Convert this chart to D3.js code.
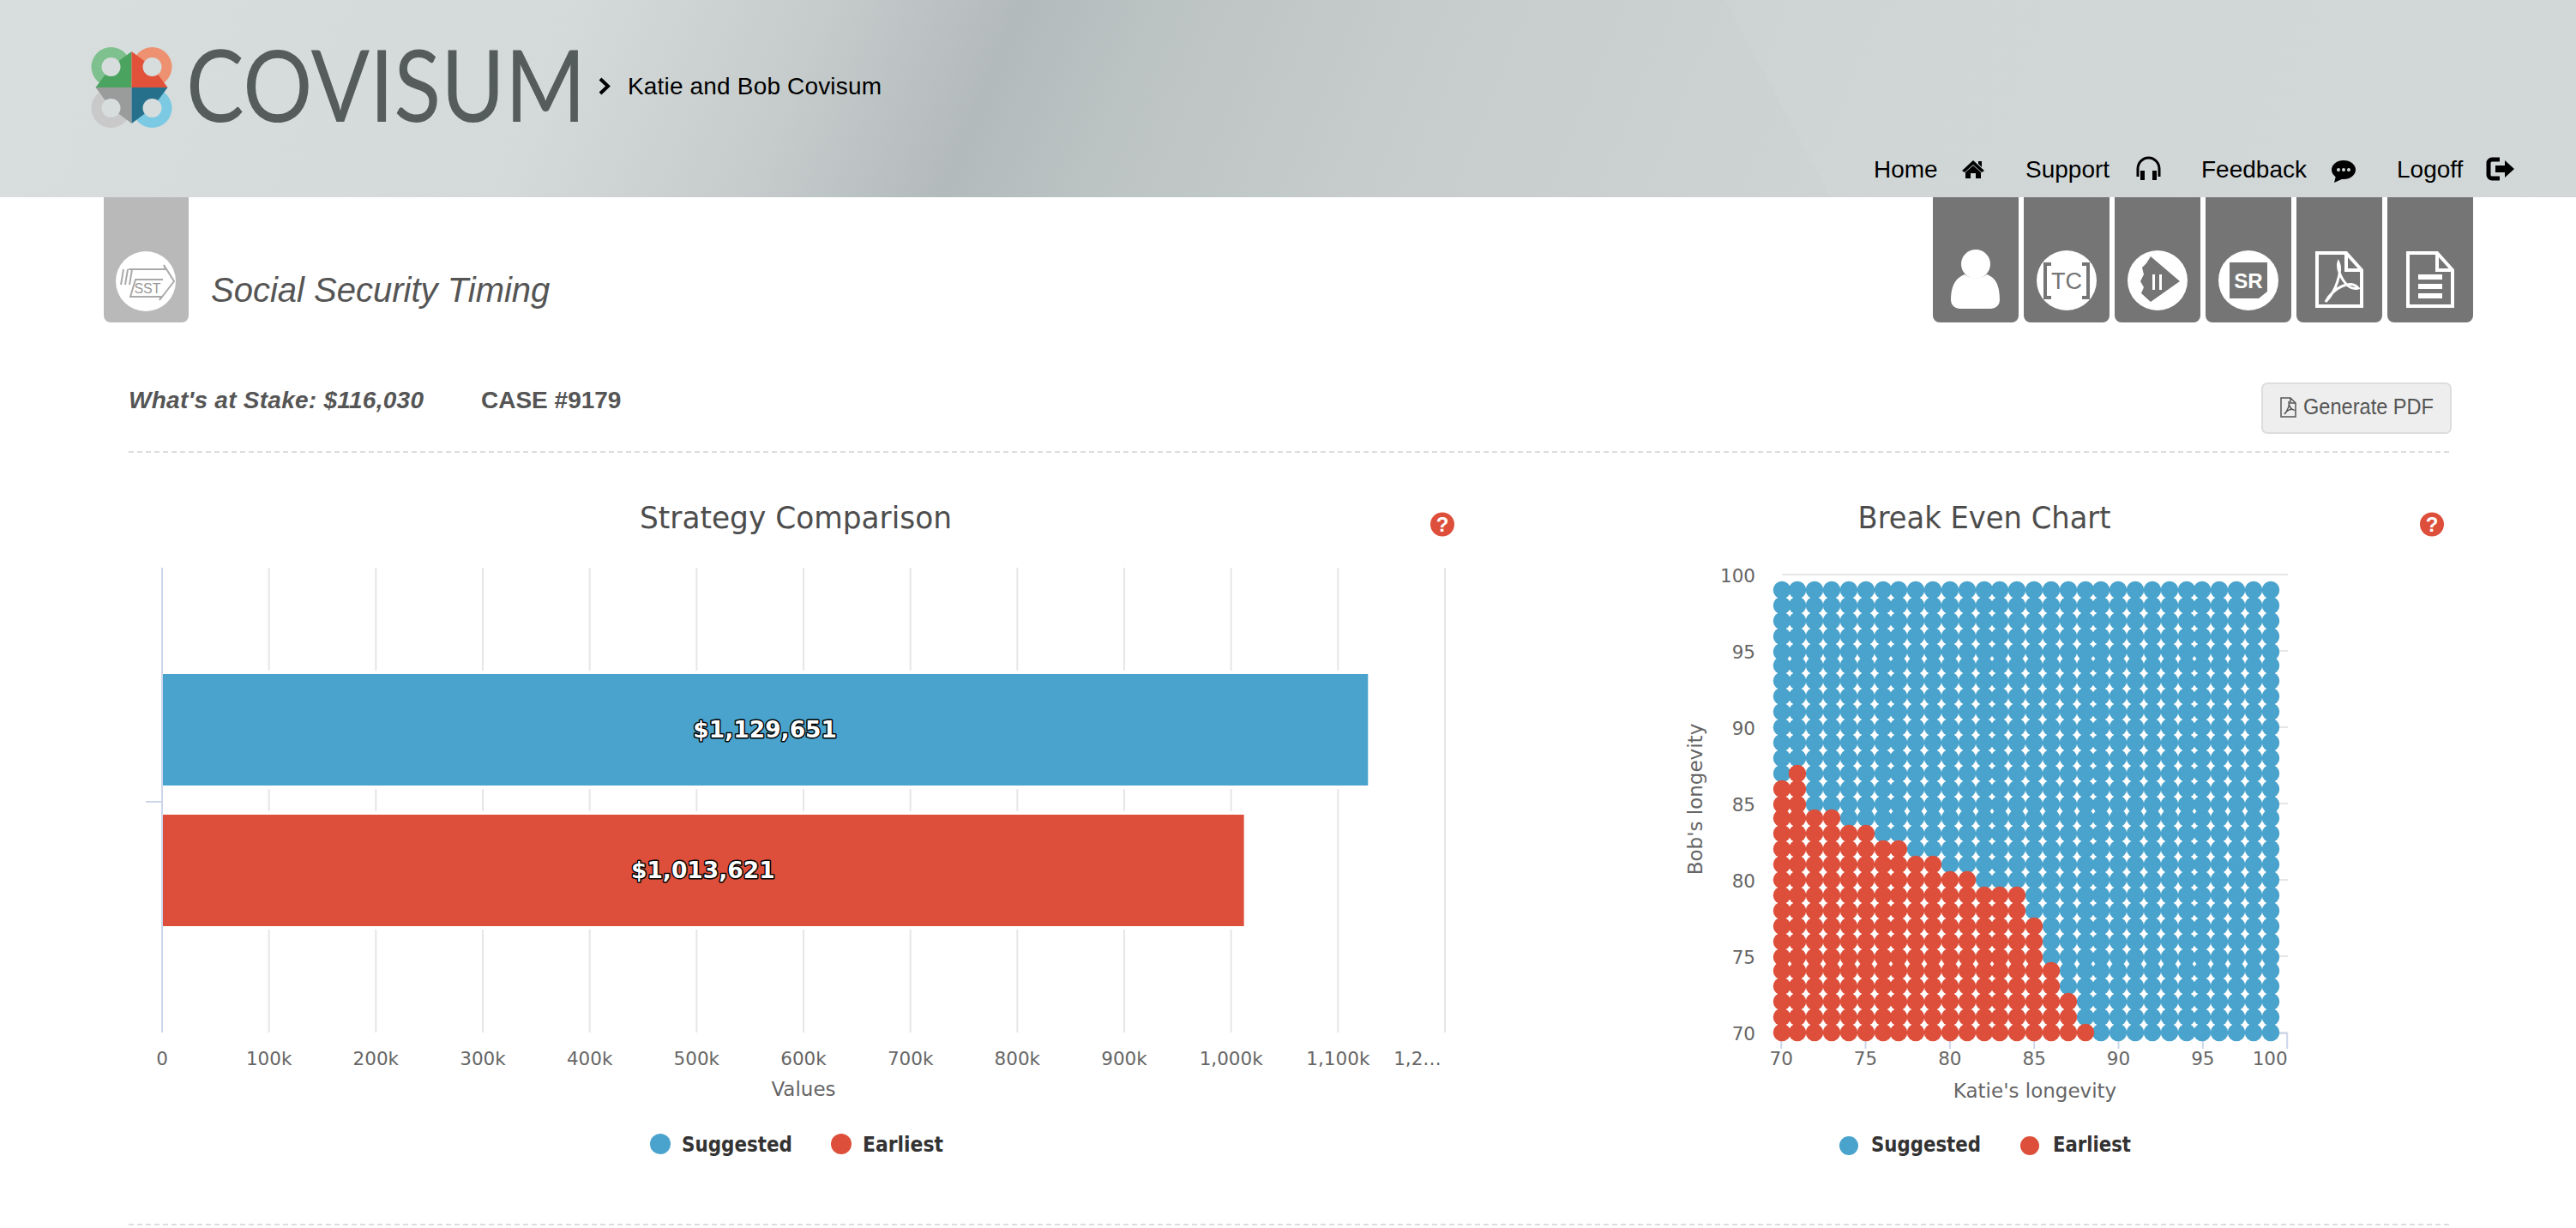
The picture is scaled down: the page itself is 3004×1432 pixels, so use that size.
<!DOCTYPE html>
<html>
<head>
<meta charset="utf-8">
<script src="https://cdn.jsdelivr.net/npm/d3@7"></script>
<style>
  html, body { margin: 0; padding: 0; background: #fff; }
  svg { display: block; }
  .ui { font-family: "Liberation Sans", Arial, sans-serif; }
  .hc { font-family: "DejaVu Sans", sans-serif; }
</style>
</head>
<body>
<svg id="page" width="3004" height="1432"></svg>
<script>
// strategy comparison
const strategies = ["Suggested", "Earliest"];
const totals = [1129651, 1013621];
const totalLabels = ["$1,129,651", "$1,013,621"];
const valueTicks = [0, 100000, 200000, 300000, 400000, 500000, 600000, 700000, 800000, 900000, 1000000, 1100000, 1200000];
const valueTickLabels = ["0", "100k", "200k", "300k", "400k", "500k", "600k", "700k", "800k", "900k", "1,000k", "1,100k", "1,2…"];

// break even chart
const katieAges = [70, 71, 72, 73, 74, 75, 76, 77, 78, 79, 80, 81, 82, 83, 84, 85, 86, 87, 88, 89, 90, 91, 92, 93, 94, 95, 96, 97, 98, 99];
const bobAges = [70, 71, 72, 73, 74, 75, 76, 77, 78, 79, 80, 81, 82, 83, 84, 85, 86, 87, 88, 89, 90, 91, 92, 93, 94, 95, 96, 97, 98, 99];
// highest Bob age that is still "Earliest", one per Katie age (null = none)
const earliestTopBob = [86, 87, 84, 84, 83, 83, 82, 82, 81, 81, 80, 80, 79, 79, 79, 77, 74, 72, 70, null, null, null, null, null, null, null, null, null, null, null];
const longevityTicks = [70, 75, 80, 85, 90, 95, 100];

const blue = "#49a3cc", red = "#dd4f3a";
const seriesColors = [blue, red];

const svg = d3.select("#page");

//---------- header ----------
const defs = svg.append("defs");
const headerGrad = defs.append("linearGradient")
    .attr("id", "headerGrad")
    .attr("gradientUnits", "userSpaceOnUse")
    .attr("x1", 0).attr("y1", 0)
    .attr("x2", 2646).attr("y2", 1094);
[[0, "#d8dedd"], [.22, "#d4dada"], [.31, "#c6cccc"], [.385, "#b3babb"], [.44, "#bcc3c3"], [.55, "#c7cdcd"], [.72, "#ced4d4"], [1, "#d0d6d5"]]
    .forEach(s => headerGrad.append("stop").attr("offset", s[0]).attr("stop-color", s[1]));

svg.append("rect")
    .attr("width", 3004).attr("height", 230)
    .attr("fill", "url(#headerGrad)");
svg.append("path")
    .attr("d", "M2011,0L2135,230L3004,230L3004,0Z")
    .attr("fill", "#fff").attr("opacity", 0.05);

// logo rings, each one with a darker corner going to the middle
const logoCx = 153.5, logoCy = 102;
const rings = [
    {dx: -1, dy: -1, light: "#7fc08f", dark: "#4aa35f"},
    {dx: 1, dy: -1, light: "#ee9171", dark: "#e2513a"},
    {dx: -1, dy: 1, light: "#c9c9c9", dark: "#9a9c9c"},
    {dx: 1, dy: 1, light: "#7cc9e3", dark: "#27708c"}
];
const logo = svg.append("g");
rings.forEach(r => {
    const cx = logoCx + r.dx * 24, cy = logoCy + r.dy * 24;
    logo.append("circle").attr("cx", cx).attr("cy", cy).attr("r", 23).attr("fill", r.light);
    logo.append("path")
        .attr("fill", r.dark)
        .attr("d", `M${logoCx},${logoCy}H${cx + r.dx * 18}L${cx},${cy}L${logoCx},${cy + r.dy * 18}Z`);
    logo.append("circle").attr("cx", cx).attr("cy", cy).attr("r", 11).attr("fill", "#d7dddd");
});
svg.append("text")
    .attr("x", 217).attr("y", 142)
    .attr("textLength", 466)
    .attr("lengthAdjust", "spacingAndGlyphs")
    .style("font-family", "Lato, sans-serif")
    .style("font-size", "116px")
    .attr("fill", "#555d5c")
    .text("COVISUM");

svg.append("path")
    .attr("d", "M700,92L709,100.5L700,109")
    .attr("fill", "none").attr("stroke", "#000").attr("stroke-width", 4);
svg.append("text").attr("class", "ui")
    .attr("x", 732).attr("y", 110)
    .attr("textLength", 296)
    .style("font-size", "28px")
    .text("Katie and Bob Covisum");

// nav links
const navLabels = ["Home", "Support", "Feedback", "Logoff"];
const navX = [2185, 2362, 2567, 2795];
svg.append("g").selectAll("text")
    .data(navLabels)
    .enter()
    .append("text")
    .attr("class", "ui")
    .attr("x", (d, i) => navX[i])
    .attr("y", 207)
    .style("font-size", "28px")
    .text(d => d);

// home
svg.append("path")
    .attr("d", "M2301,187L2314,199L2311,201L2301,192L2291,201L2288,199Z M2292,201L2301,193L2310,201V208H2304V202H2298V208H2292Z M2307,188H2311V195L2307,191Z");
// headphones
svg.append("path")
    .attr("d", "M2493,206V197a12.5,13 0 0 1 25,0V206")
    .attr("fill", "none").attr("stroke", "#000").attr("stroke-width", 3);
svg.append("path").attr("d", "M2496,199h5v11h-5Z M2510,199h5v11h-5Z");
// feedback
svg.append("ellipse").attr("cx", 2733).attr("cy", 198).attr("rx", 14).attr("ry", 11);
svg.append("path").attr("d", "M2724,205L2722,213L2733,208Z");
svg.append("g").selectAll("circle")
    .data([2727, 2733, 2739])
    .enter()
    .append("circle")
    .attr("cx", d => d).attr("cy", 198).attr("r", 2).attr("fill", "#d0d6d6");
// logoff
svg.append("path")
    .attr("d", "M2915,186H2906a4,4 0 0 0 -4,4V204a4,4 0 0 0 4,4H2915")
    .attr("fill", "none").attr("stroke", "#000").attr("stroke-width", 5);
svg.append("path").attr("d", "M2910,193H2921V187L2932,197L2921,207V201H2910Z");

//---------- toolbar ----------
svg.append("path")
    .attr("d", "M121,230H220V368a8,8 0 0 1 -8,8H129a8,8 0 0 1 -8,-8Z")
    .attr("fill", "#b9b9b9");
svg.append("circle").attr("cx", 170).attr("cy", 328).attr("r", 35).attr("fill", "#fff");
svg.append("path")
    .attr("d", "M150,314H193L191,309L203,328L186,350L188,346H152L158,326H190")
    .attr("fill", "none").attr("stroke", "#aaa").attr("stroke-width", 2);
svg.append("g").selectAll("line")
    .data([141, 146, 151])
    .enter()
    .append("line")
    .attr("x1", d => d + 3).attr("x2", d => d)
    .attr("y1", 314).attr("y2", 332)
    .attr("stroke", "#aaa").attr("stroke-width", 2);
svg.append("text").attr("class", "ui")
    .attr("x", 172).attr("y", 342).attr("text-anchor", "middle")
    .style("font-size", "16px").attr("fill", "#999")
    .text("SST");

svg.append("text").attr("class", "ui")
    .attr("x", 246).attr("y", 352)
    .style("font-size", "40px").style("font-style", "italic")
    .attr("fill", "#555")
    .text("Social Security Timing");

const toolX = [2254, 2360, 2466, 2572, 2678, 2784];
svg.append("g").selectAll("path")
    .data(toolX)
    .enter()
    .append("path")
    .attr("d", d => `M${d},230H${d + 100}V368a8,8 0 0 1 -8,8H${d + 8}a8,8 0 0 1 -8,-8Z`)
    .attr("fill", "#757575");

const tool = svg.append("g").attr("fill", "#fff");
// person
tool.append("ellipse").attr("cx", 2304).attr("cy", 308).attr("rx", 17).attr("ry", 17);
tool.append("path").attr("d", "M2275,350c0,-18 6,-26 16,-30c8,6 18,6 26,0c10,4 15,12 15,30a10,10 0 0 1 -10,10h-37a10,10 0 0 1 -10,-10Z");
// three round badges
[2410, 2516, 2622].forEach(cx => {
    tool.append("circle").attr("cx", cx).attr("cy", 327).attr("r", 35);
});
tool.append("path")
    .attr("d", "M2392,308H2385V347H2392M2428,308H2435V347H2428")
    .attr("fill", "none").attr("stroke", "#757575").attr("stroke-width", 4);
tool.append("text").attr("class", "ui")
    .attr("x", 2410).attr("y", 337).attr("text-anchor", "middle")
    .style("font-size", "27px").attr("fill", "#757575")
    .text("TC");
tool.append("path")
    .attr("d", "M2508,299L2542,328L2508,352L2497,342L2500,335L2496,328L2500,320L2498,312L2503,307Z")
    .attr("fill", "#757575");
tool.append("path").attr("d", "M2510,320h3v18h-3Z M2518,320h3v18h-3Z");
tool.append("path")
    .attr("d", "M2600,306H2644V340L2634,348H2600Z")
    .attr("fill", "#757575");
tool.append("text").attr("class", "ui")
    .attr("x", 2622).attr("y", 336).attr("text-anchor", "middle")
    .style("font-size", "24px").style("font-weight", "bold")
    .text("SR");
// pdf and document pages
[2700, 2806].forEach(x => {
    tool.append("path")
        .attr("d", `M${x + 2},295H${x + 36}L${x + 54},315V357H${x + 2}Z M${x + 36},295V315H${x + 54}`)
        .attr("fill", "none").attr("stroke", "#fff").attr("stroke-width", 4);
});
tool.append("path")
    .attr("d", "M2712,352C2724,340 2732,316 2727,306C2724,316 2736,340 2750,336C2742,326 2722,334 2712,352Z")
    .attr("fill", "none").attr("stroke", "#fff").attr("stroke-width", 3);
tool.append("g").selectAll("rect")
    .data([320, 331, 342])
    .enter()
    .append("rect")
    .attr("x", 2820).attr("y", d => d)
    .attr("width", 28).attr("height", 6);

//---------- case line ----------
svg.append("text").attr("class", "ui")
    .attr("x", 150).attr("y", 476)
    .attr("textLength", 344)
    .style("font-size", "28px").style("font-weight", "bold").style("font-style", "italic")
    .attr("fill", "#555")
    .text("What's at Stake: $116,030");
svg.append("text").attr("class", "ui")
    .attr("x", 561).attr("y", 476)
    .style("font-size", "28px").style("font-weight", "bold")
    .attr("fill", "#555")
    .text("CASE #9179");

svg.append("rect")
    .attr("x", 2638).attr("y", 447)
    .attr("width", 220).attr("height", 58).attr("rx", 6)
    .attr("fill", "#eee").attr("stroke", "#ddd").attr("stroke-width", 2);
svg.append("path")
    .attr("d", "M2660,464H2671L2677,470V486H2660Z M2671,464V470H2677 M2664,483C2668,478 2670,472 2669,468C2669,474 2672,478 2675,478C2672,476 2667,478 2664,483Z")
    .attr("fill", "none").attr("stroke", "#555").attr("stroke-width", 1.5);
svg.append("text").attr("class", "ui")
    .attr("x", 2686).attr("y", 483)
    .attr("textLength", 152)
    .attr("lengthAdjust", "spacingAndGlyphs")
    .style("font-size", "25px").attr("fill", "#555")
    .text("Generate PDF");

svg.append("g").selectAll("line")
    .data([527, 1428])
    .enter()
    .append("line")
    .attr("x1", 150).attr("x2", 2859)
    .attr("y1", d => d).attr("y2", d => d)
    .attr("stroke", "#ddd").attr("stroke-width", 2)
    .attr("stroke-dasharray", "6 4");

//---------- chart helpers ----------
function chartTitle(text, cx, width) {
    svg.append("text").attr("class", "hc")
        .attr("x", cx).attr("y", 616)
        .attr("text-anchor", "middle")
        .attr("textLength", width)
        .attr("lengthAdjust", "spacingAndGlyphs")
        .style("font-size", "36px")
        .attr("fill", "#4d4d4d")
        .text(text);
}

function helpIcon(cx) {
    svg.append("circle").attr("cx", cx).attr("cy", 611.5).attr("r", 14).attr("fill", red);
    svg.append("text").attr("class", "ui")
        .attr("x", cx).attr("y", 620)
        .attr("text-anchor", "middle")
        .style("font-size", "24px").style("font-weight", "bold")
        .attr("fill", "#fff")
        .text("?");
}

function axisTitle(text, x, y, rotate) {
    svg.append("text").attr("class", "hc")
        .attr("transform", `translate(${x},${y})rotate(${rotate})`)
        .attr("text-anchor", "middle")
        .style("font-size", "23px")
        .attr("fill", "#666")
        .text(text);
}

function legend(dotX, textX, textWidth, cy, r) {
    const g = svg.append("g");
    g.selectAll("circle")
        .data(strategies)
        .enter()
        .append("circle")
        .attr("cx", (d, i) => dotX[i])
        .attr("cy", cy)
        .attr("r", r)
        .attr("fill", (d, i) => seriesColors[i]);
    g.selectAll("text")
        .data(strategies)
        .enter()
        .append("text")
        .attr("class", "hc")
        .attr("x", (d, i) => textX[i])
        .attr("y", 1343)
        .attr("textLength", (d, i) => textWidth[i])
        .attr("lengthAdjust", "spacingAndGlyphs")
        .style("font-size", "24px").style("font-weight", "bold")
        .attr("fill", "#333")
        .text(d => d);
}

function styleAxisText(g, size) {
    g.selectAll("text")
        .attr("class", "hc")
        .style("font-size", size)
        .attr("fill", "#666");
}

//---------- strategy comparison ----------
chartTitle("Strategy Comparison", 928, 364);
helpIcon(1682);

const barX = d3.scaleLinear()
    .domain([0, 1200000])
    .range([189, 1685]);

const barY = d3.scaleBand()
    .domain(strategies)
    .range([784, 1082])
    .paddingInner(30 / 164);

const barGroupY = d3.scaleBand()
    .domain(["Strategy"])
    .range([666, 1204]);

const barXAxis = d3.axisBottom(barX)
    .tickValues(valueTicks)
    .tickFormat((d, i) => valueTickLabels[i])
    .tickSize(-542)
    .offset(0);

const barXGroup = svg.append("g")
    .attr("transform", "translate(0,1204)")
    .call(barXAxis);
barXGroup.select(".domain").remove();
barXGroup.selectAll("line").attr("stroke", "#e6e6e6").attr("stroke-width", 2);
styleAxisText(barXGroup, "21.5px");
barXGroup.selectAll("text").attr("y", 38).attr("dy", 0);
barXGroup.selectAll(".tick:last-child text").attr("x", -32);

svg.selectAll("rect.bar")
    .data(strategies)
    .enter()
    .append("rect")
    .attr("class", "bar")
    .attr("x", barX(0) - 1)
    .attr("y", d => barY(d))
    .attr("width", (d, i) => barX(totals[i]) - barX(0) + 1)
    .attr("height", barY.bandwidth())
    .attr("fill", (d, i) => seriesColors[i])
    .attr("stroke", "#fff")
    .attr("stroke-width", 4);

const barYGroup = svg.append("g")
    .attr("transform", "translate(189,0)")
    .call(d3.axisLeft(barGroupY).tickSize(19).tickFormat("").offset(0));
barYGroup.select(".domain").remove();
barYGroup.selectAll("line").attr("stroke", "#ccd6eb").attr("stroke-width", 2);

svg.append("line")
    .attr("x1", 189).attr("x2", 189)
    .attr("y1", 662).attr("y2", 1204)
    .attr("stroke", "#ccd6eb").attr("stroke-width", 2);

svg.selectAll("text.barLabel")
    .data(strategies)
    .enter()
    .append("text")
    .attr("class", "barLabel hc")
    .attr("x", (d, i) => (barX(0) + barX(totals[i])) / 2 - 1)
    .attr("y", d => barY(d) + barY.bandwidth() / 2 + 9)
    .attr("text-anchor", "middle")
    .style("font-size", "26.5px").style("font-weight", "bold")
    .style("paint-order", "stroke")
    .attr("fill", "#fff")
    .attr("stroke", "#000")
    .attr("stroke-width", 3)
    .attr("stroke-linejoin", "round")
    .text((d, i) => totalLabels[i]);

axisTitle("Values", 937, 1278, 0);
legend([770, 981], [795, 1006], [129, 94], 1334, 12);

//---------- break even chart ----------
chartTitle("Break Even Chart", 2314, 295);
helpIcon(2836);

const evenX = d3.scaleLinear()
    .domain([70, 100])
    .range([2077.2, 2667.2]);

const evenY = d3.scaleLinear()
    .domain([70, 100])
    .range([1204.1, 670.1]);

// highcharts snaps markers to whole css pixels, that is even pixels here
const snap = v => 2 * Math.round(v / 2);

const evenYGroup = svg.append("g")
    .attr("transform", "translate(2078,0)")
    .call(d3.axisLeft(evenY).tickValues(longevityTicks).tickSize(-590).offset(0));
evenYGroup.select(".domain").remove();
evenYGroup.selectAll("line").attr("stroke", "#e6e6e6").attr("stroke-width", 2);
styleAxisText(evenYGroup, "21.5px");
evenYGroup.selectAll("text").attr("x", -31).attr("dy", "0.4em");

const evenPoints = [];
katieAges.forEach((katie, i) => {
    bobAges.forEach(bob => {
        evenPoints.push({katie: katie, bob: bob, earliest: earliestTopBob[i] !== null && bob <= earliestTopBob[i]});
    });
});

const evenXGroup = svg.append("g")
    .attr("transform", "translate(0,1205)")
    .call(d3.axisBottom(evenX).tickValues(longevityTicks).tickSize(18).tickSizeOuter(0).offset(0));
evenXGroup.selectAll(".tick line").attr("stroke", "#ccd6eb").attr("stroke-width", 2);
evenXGroup.select(".domain").attr("stroke", "#ccd6eb").attr("stroke-width", 2);
styleAxisText(evenXGroup, "21.5px");
evenXGroup.selectAll("text").attr("y", 37).attr("dy", 0);
evenXGroup.selectAll(".tick:last-child text").attr("x", -20);

// blue first, the red ones sit on top of it
svg.append("g").selectAll("circle")
    .data(evenPoints.filter(d => !d.earliest))
    .enter()
    .append("circle")
    .attr("cx", d => snap(evenX(d.katie)))
    .attr("cy", d => snap(evenY(d.bob)))
    .attr("r", 10.25)
    .attr("fill", blue);
svg.append("g").selectAll("circle")
    .data(evenPoints.filter(d => d.earliest))
    .enter()
    .append("circle")
    .attr("cx", d => snap(evenX(d.katie)))
    .attr("cy", d => snap(evenY(d.bob)))
    .attr("r", 10.25)
    .attr("fill", red);

axisTitle("Katie's longevity", 2373, 1280, 0);
axisTitle("Bob's longevity", 1985, 932, -90);
legend([2156, 2367], [2182, 2394], [128, 91], 1336, 11);
</script>
</body>
</html>
